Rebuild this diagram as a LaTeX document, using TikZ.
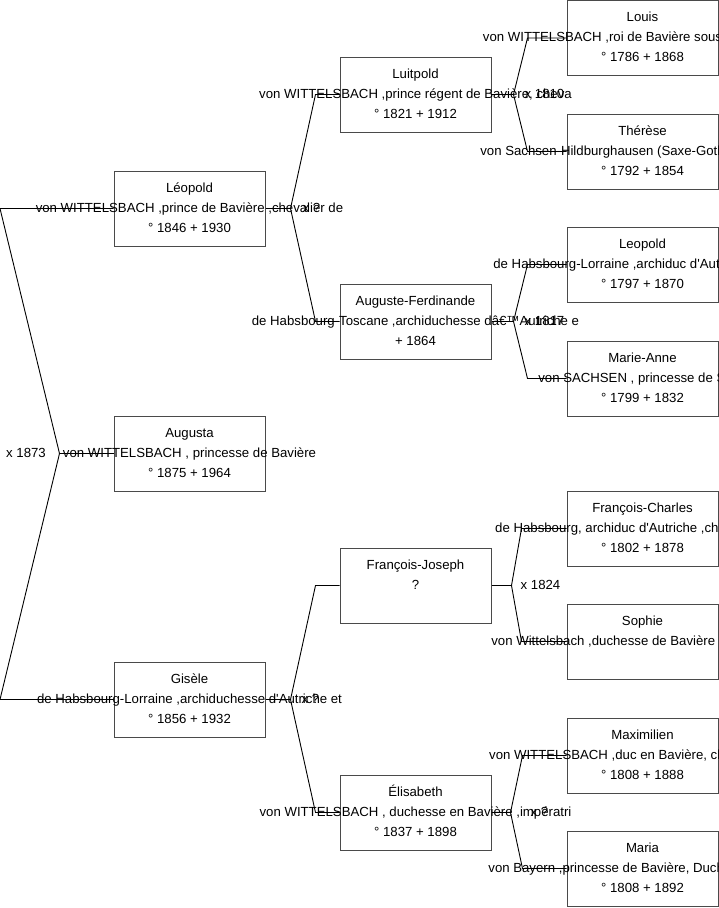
\documentclass[tikz,border=0pt]{standalone}
\usepackage{fontspec}
\newfontfamily\pfont{Liberation Sans}
\usetikzlibrary{calc}
\definecolor{boxgray}{HTML}{4A4A4A}
\newcommand\pperson[6]{%
  \node[pbox] (#1) at (#2+75.5,#3+37.5) {};
  \node[ptxt] (#1-a) at (#2+75.5,#3+21) {#4};
  \node[ptxt] (#1-b) at (#2+75.5,#3+41) {#5};
  \node[ptxt] (#1-c) at (#2+75.5,#3+61) {#6};
}
\begin{document}
\begin{tikzpicture}[x=1pt,y=-1pt,
  pbox/.style={draw=boxgray, line width=1pt, minimum width=151pt, minimum height=75pt, inner sep=0pt},
  ptxt/.style={font=\pfont\fontsize{13.2}{16}\selectfont, anchor=base, inner sep=0pt},
  lbl/.style={ptxt, anchor=base west},
  conn/.style={draw=black, line width=0.9pt}]
\useasboundingbox (0,0) rectangle (719,908);

\pperson{leo}{114}{171}{Léopold}{von WITTELSBACH ,prince de Bavière ,chevalier de}{° 1846 + 1930}
\pperson{aug}{114}{416}{Augusta}{von WITTELSBACH , princesse de Bavière}{° 1875 + 1964}
\pperson{gis}{114}{662}{Gisèle}{de Habsbourg-Lorraine ,archiduchesse d'Autriche et}{° 1856 + 1932}
\pperson{lui}{340}{57}{Luitpold}{von WITTELSBACH ,prince régent de Bavière, cheva}{° 1821 + 1912}
\pperson{af}{340}{284}{Auguste-Ferdinande}{de Habsbourg-Toscane ,archiduchesse dâ€™Autriche e}{+ 1864}
\pperson{fj}{340}{548}{François-Joseph}{?}{}
\pperson{eli}{340}{775}{Élisabeth}{von WITTELSBACH , duchesse en Bavière ,impératri}{° 1837 + 1898}
\pperson{lou}{567}{0.5}{Louis}{von WITTELSBACH ,roi de Bavière sous le nom de Lo}{° 1786 + 1868}
\pperson{the}{567}{114}{Thérèse}{von Sachsen-Hildburghausen (Saxe-Gotha-Altenbourg)}{° 1792 + 1854}
\pperson{lpo}{567}{227}{Leopold}{de Habsbourg-Lorraine ,archiduc d'Autriche, prince}{° 1797 + 1870}
\pperson{man}{567}{341}{Marie-Anne}{von SACHSEN , princesse de Saxe}{° 1799 + 1832}
\pperson{fc}{567}{491}{François-Charles}{de Habsbourg, archiduc d'Autriche ,chevalier de la}{° 1802 + 1878}
\pperson{sop}{567}{604}{Sophie}{von Wittelsbach ,duchesse de Bavière ,archiduches}{}
\pperson{max}{567}{718}{Maximilien}{von WITTELSBACH ,duc en Bavière, chevalier de la}{° 1808 + 1888}
\pperson{mar}{567}{831}{Maria}{von Bayern ,princesse de Bavière, Duchesse en Bav}{° 1808 + 1892}

% root fork
\draw[conn] (aug.west) -- ++(-54,0) coordinate (f0);
\coordinate (j0a) at ($(leo.west)+(-113.5,0)$);
\coordinate (j0b) at ($(gis.west)+(-113.5,0)$);
\draw[conn] (leo.west) -- (j0a) -- (f0) -- (j0b) -- (gis.west);
\node[lbl] (m0) at (6,457) {x 1873};

% Leopold's parents
\draw[conn] (leo.east) -- ++(25,0) coordinate (f1);
\draw[conn] (lui.west) -- ++(-24,0) -- (f1) -- ($(af.west)+(-24,0)$) -- (af.west);
\node[lbl] (m1) at ($(f1)+(12,4)$) {x ?};

% Gisele's parents
\draw[conn] (gis.east) -- ++(25,0) coordinate (f4);
\draw[conn] (fj.west) -- ++(-24,0) -- (f4) -- ($(eli.west)+(-24,0)$) -- (eli.west);
\node[lbl] (m4) at ($(f4)+(11,4)$) {x ?};

% Luitpold's parents
\draw[conn] (lui.east) -- ++(22,0) coordinate (f2);
\draw[conn] (lou.west) -- ++(-39,0) -- (f2) -- ($(the.west)+(-39,0)$) -- (the.west);
\node[lbl] (m2) at ($(f2)+(11,4)$) {x 1810};

% Auguste-Ferdinande's parents
\draw[conn] (af.east) -- ++(22,0) coordinate (f3);
\draw[conn] (lpo.west) -- ++(-39,0) -- (f3) -- ($(man.west)+(-39,0)$) -- (man.west);
\node[lbl] (m3) at ($(f3)+(11,4)$) {x 1817};

% Francois-Joseph's parents
\draw[conn] (fj.east) -- ++(20,0) coordinate (f5);
\draw[conn] (fc.west) -- ++(-45,0) -- (f5) -- ($(sop.west)+(-45,0)$) -- (sop.west);
\node[lbl] (m5) at ($(f5)+(9,4)$) {x 1824};

% Elisabeth's parents
\draw[conn] (eli.east) -- ++(19,0) coordinate (f6);
\draw[conn] (max.west) -- ++(-44,0) -- (f6) -- ($(mar.west)+(-44,0)$) -- (mar.west);
\node[lbl] (m6) at ($(f6)+(20,4)$) {x ?};
\end{tikzpicture}
\end{document}
